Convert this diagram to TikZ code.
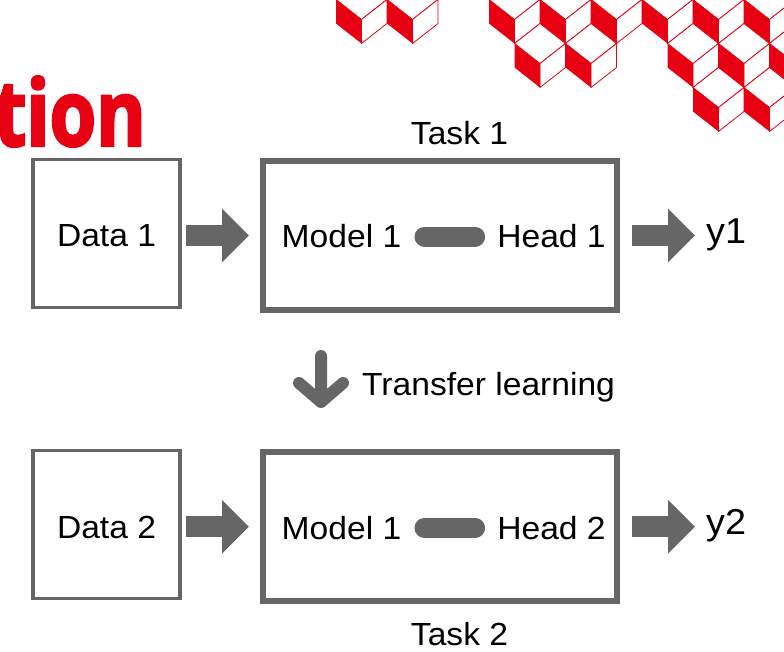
\documentclass[tikz,border=0pt]{standalone}
\usepackage{fontspec}
\setmainfont{Liberation Sans}[FakeStretch=1.05]
\newfontfamily\titlefont{Open Sans}[FakeStretch=0.82, FakeBold=2.5]
\usetikzlibrary{arrows.meta}

\definecolor{cubered}{RGB}{230,0,18}
\definecolor{boxgray}{RGB}{102,102,102}

\tikzset{
  databox/.style={draw=boxgray, line width=3.5pt, minimum width=147pt, minimum height=148pt, inner sep=0pt},
  taskbox/.style={draw=boxgray, line width=6pt, minimum width=354pt, minimum height=149pt},
  txt/.style={inner sep=0pt, font=\fontsize{32}{38}\selectfont},
  flow/.style={boxgray, line width=21pt, shorten >=11pt, -{Triangle[length=27pt,width=52pt]}},
  link/.style={boxgray, line width=20pt, line cap=round, shorten <=23pt, shorten >=22pt},
  downflow/.style={boxgray, line width=12pt, line cap=round, line join=round},
}

% one block of the red pattern, #1/#2 = its lowest corner
\newcommand{\redcube}[2]{%
  \draw[cubered, line width=0.8pt, fill=white] (#1,#2) ++(0,-24) -- ++(-25.5,-20) -- ++(25.5,-20) -- ++(25.5,20) -- cycle;
  \draw[cubered, line width=0.8pt, fill=white] (#1,#2) -- ++(25.5,-20) -- ++(0,-24) -- ++(-25.5,20) -- cycle;
  \fill[cubered] (#1,#2) -- ++(-25.5,-20) -- ++(0,-24) -- ++(25.5,20) -- cycle;
}

\begin{document}
\begin{tikzpicture}[x=1pt, y=-1pt]
\clip (0,0) rectangle (784,651);

% pattern in the top right corner
\foreach \cx/\cy in {361.5/43.5, 412.5/43.5, 514.5/43.5, 565.5/43.5, 616.5/43.5, 667.5/43.5, 718.5/43.5, 769.5/43.5,
                     540/87.5, 591/87.5, 693/87.5, 744/87.5, 795/87.5,
                     718.5/131.5, 769.5/131.5}
  \redcube{\cx}{\cy};

\node[anchor=base east, inner sep=0pt, text=cubered, font=\titlefont\bfseries\fontsize{92}{100}\selectfont] (title) at (146,146) {tion};

% first task
\node[databox] (data1) at (106.5,233.4) {};
\node[txt] (data1 text) at (106.5,236) {Data 1};
\node[taskbox] (task1) at (440,235.5) {};
\node[txt] (model1) at (341.5,236.5) {Model 1};
\node[txt] (head1) at (551.5,236.5) {Head 1};
\node[txt, font=\fontsize{36}{42}\selectfont, anchor=base west] (y1) at (706,243) {y1};

\draw[link] (model1) -- (head1);
\draw[flow, shorten <=4pt] (data1.east |- task1) -- (task1.west);
\draw[flow, shorten <=12pt] (task1.east) -- (y1.west |- task1.east);

\node[txt, anchor=base] (task1 label) at (459.5,144) {Task 1};

% transfer step
\coordinate (shaft top) at (321,356);
\coordinate (shaft tip) at (321,402);
\draw[downflow] (shaft top) -- (shaft tip) ++(-22,-19) -- (shaft tip) -- ++(22,-19);
\node[txt, anchor=base west] (transfer) at (362,395) {Transfer learning};

% second task
\begin{scope}[shift={(0,291.3)}]
\node[databox] (data2) at (106.5,233.4) {};
\node[txt] (data2 text) at (106.5,236) {Data 2};
\node[taskbox] (task2) at (440,235.5) {};
\node[txt] (model2) at (341.5,236.5) {Model 1};
\node[txt] (head2) at (551.5,236.5) {Head 2};
\node[txt, font=\fontsize{36}{42}\selectfont, anchor=base west] (y2) at (706,243) {y2};

\draw[link] (model2) -- (head2);
\draw[flow, shorten <=4pt] (data2.east |- task2) -- (task2.west);
\draw[flow, shorten <=12pt] (task2.east) -- (y2.west |- task2.east);
\end{scope}

\node[txt, anchor=base] (task2 label) at (459.5,645) {Task 2};

\end{tikzpicture}
\end{document}
